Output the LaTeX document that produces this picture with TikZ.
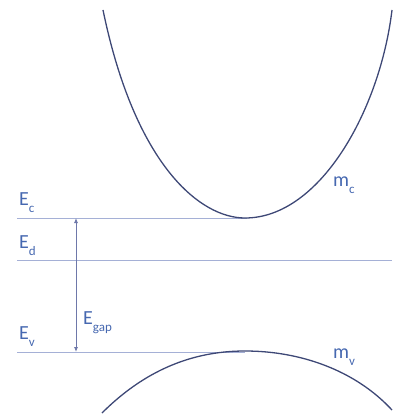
\documentclass[tikz,border=0pt]{standalone}
\usepackage{fontspec}
\setmainfont{Carlito}
\usetikzlibrary{arrows.meta}
\definecolor{lvl}{RGB}{165,176,214}
\definecolor{crv}{RGB}{62,72,118}
\definecolor{txt}{RGB}{70,104,176}
\definecolor{arr}{RGB}{110,120,170}
\newcommand{\sbs}[1]{\raisebox{-0.35em}{\fontsize{13}{13}\selectfont #1}}
\begin{document}
\begin{tikzpicture}[x=1pt,y=-1pt,
  level/.style={draw=lvl,line width=0.8pt},
  band/.style={draw=crv,line width=1.3pt},
  lbl/.style={text=txt,font=\fontsize{20}{20}\selectfont,inner sep=0pt,anchor=west}]
\useasboundingbox (0,0) rectangle (395,417);
% level lines
\coordinate (ec0) at (17,218); \coordinate (ec1) at (247,218);
\coordinate (ed0) at (17,260); \coordinate (ed1) at (392,260);
\coordinate (ev0) at (17,352); \coordinate (ev1) at (245,352);
\draw[level] (ec0) -- (ec1);
\draw[level] (ed0) -- (ed1);
\draw[level] (ev0) -- (ev1);
% gap arrow
\coordinate (gt) at (76,218); \coordinate (gb) at (76,352);
\draw[draw=arr,line width=0.8pt,{Latex[length=5pt,width=4pt]}-{Latex[length=5pt,width=4pt]}] (gt) -- (gb);
% bands
\coordinate (cl) at (103,10); \coordinate (cm) at (245,218); \coordinate (cr) at (392,10);
\draw[band] (cl) .. controls (135,165) and (200,218) .. (cm)
                 .. controls (320,218) and (380,110) .. (cr);
\coordinate (vl) at (102,413); \coordinate (vm) at (245,351); \coordinate (vr) at (392,410);
\draw[band] (vl) .. controls (150,365) and (200,351) .. (vm)
                 .. controls (300,351) and (355,370) .. (vr);
% labels
\node[lbl] (lec) at (19,203) {E\sbs{c}};
\node[lbl] (led) at (19,246) {E\sbs{d}};
\node[lbl] (lev) at (19,337) {E\sbs{v}};
\node[lbl] (lgap) at (83,323) {E\sbs{gap}};
\node[lbl] (lmc) at (333,185) {m\sbs{c}};
\node[lbl] (lmv) at (333,357) {m\sbs{v}};
\end{tikzpicture}
\end{document}
